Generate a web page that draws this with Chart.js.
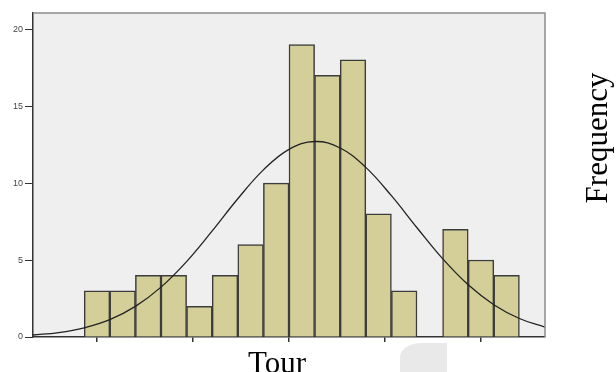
<!DOCTYPE html>
<html>
<head>
<meta charset="utf-8">
<script src="https://cdn.jsdelivr.net/npm/chart.js@4/dist/chart.umd.min.js"></script>
<style>
  html, body { margin: 0; padding: 0; background: #fff; }
  #wrap { position: relative; width: 616px; height: 372px; overflow: hidden; }
  #smudge {
    position: absolute; left: 400px; top: 343px; width: 47px; height: 29px;
    background: #e9e9e9; border-top-left-radius: 22px 14px;
  }
</style>
</head>
<body>
<div id="wrap">
  <canvas id="chart" width="616" height="372"></canvas>
  <div id="smudge"></div>
</div>
<script>
'use strict';

// ─── Data (x measured in bar widths across the frame, 0..20) ───
const BIN_CENTERS = [2.5, 3.5, 4.5, 5.5, 6.5, 7.5, 8.5, 9.5, 10.5, 11.5, 12.5, 13.5, 14.5, 15.5, 16.5, 17.5, 18.5];
const FREQUENCIES = [3, 3, 4, 4, 2, 4, 6, 10, 19, 17, 18, 8, 3, 0, 7, 5, 4];

// normal curve
const CURVE_X = [0, 1, 2, 3, 4, 5, 6, 7, 8, 9, 10, 11, 12, 13, 14, 15, 16, 17, 18, 19, 20];
const CURVE_Y = [0.13, 0.29, 0.6, 1.13, 1.99, 3.24, 4.9, 6.89, 8.98, 10.86, 12.19, 12.7, 12.28, 11.02, 9.18, 7.1, 5.09, 3.39, 2.1, 1.2, 0.64];

const Y_TICKS = [0, 5, 10, 15, 20];
const X_TICKS = [2.5, 6.25, 10, 13.75, 17.5];

const X_TITLE = 'Tour';
const Y_TITLE = 'Frequency';

// ─── Plot frame: grey fill + light top/right edges ───
const framePlugin = {
  id: 'frame',
  beforeDraw(chart) {
    const { ctx, chartArea: a } = chart;
    ctx.save();
    ctx.fillStyle = '#efefef';
    ctx.fillRect(a.left, a.top, a.right - a.left, a.bottom - a.top);
    ctx.restore();
  },
  afterDraw(chart) {
    const { ctx, chartArea: a } = chart;
    ctx.save();
    ctx.strokeStyle = '#8c8c8c';
    ctx.lineWidth = 1.5;
    ctx.beginPath();
    ctx.moveTo(a.left, a.top);
    ctx.lineTo(a.right, a.top);
    ctx.lineTo(a.right, a.bottom);
    ctx.stroke();

    // axis titles in serif
    ctx.fillStyle = '#000';
    ctx.font = '31px "Liberation Serif", "Times New Roman", serif';
    ctx.textAlign = 'center';
    ctx.textBaseline = 'alphabetic';
    ctx.fillText(X_TITLE, 277, 373);
    ctx.translate(607, 138);
    ctx.rotate(-Math.PI / 2);
    ctx.fillText(Y_TITLE, 0, 0);
    ctx.restore();
  },
};

new Chart(document.getElementById('chart'), {
  type: 'bar',
  data: {
    datasets: [
      {
        type: 'line',
        data: CURVE_X.map((x, i) => ({ x, y: CURVE_Y[i] })),
        borderColor: '#222',
        borderWidth: 1.3,
        pointRadius: 0,
        tension: 0.4,
        fill: false,
        order: 0,
      },
      {
        data: BIN_CENTERS.map((x, i) => ({ x, y: FREQUENCIES[i] })),
        backgroundColor: '#d4cf99',
        borderColor: '#3c3c3c',
        borderWidth: 1.5,
        barPercentage: 1,
        categoryPercentage: 1,
        order: 1,
      },
    ],
  },
  options: {
    responsive: false,
    devicePixelRatio: 1,
    animation: false,
    events: [],
    layout: { padding: { top: 13, right: 71, left: 0, bottom: 0 } },
    plugins: { legend: { display: false }, tooltip: { enabled: false } },
    scales: {
      x: {
        type: 'linear',
        min: 0,
        max: 20,
        offset: false,
        afterFit: (s) => { s.height = 35; },
        afterBuildTicks: (s) => { s.ticks = X_TICKS.map(v => ({ value: v })); },
        ticks: { callback: () => '', padding: 0 },
        grid: { drawOnChartArea: false, drawTicks: true, tickLength: 5, color: '#333', lineWidth: 1.5, offset: false },
        border: { color: '#333', width: 1.5 },
      },
      y: {
        min: 0,
        max: 21.05,
        afterFit: (s) => { s.width = 33; },
        afterBuildTicks: (s) => { s.ticks = Y_TICKS.map(v => ({ value: v })); },
        ticks: {
          color: '#444',
          padding: 2,
          font: { family: '"Liberation Sans", Arial, sans-serif', size: 9 },
        },
        grid: { drawOnChartArea: false, drawTicks: true, tickLength: 8, color: '#333', lineWidth: 1 },
        border: { color: '#333', width: 1.5 },
      },
    },
  },
  plugins: [framePlugin],
});
</script>
</body>
</html>
